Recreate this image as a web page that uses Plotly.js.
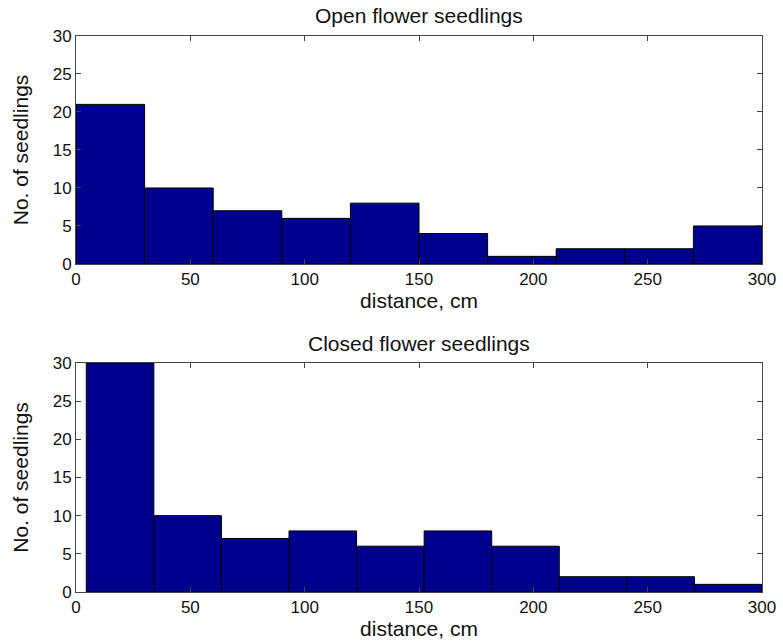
<!DOCTYPE html>
<html>
<head>
<meta charset="utf-8">
<script src="https://cdn.plot.ly/plotly-3.0.1.min.js"></script>
<style>html,body{margin:0;padding:0;background:#fff;}#chart{width:783px;height:642px;}</style>
</head>
<body>
<div id="chart"></div>
<script>
// Open flower seedlings: bin edges (cm) and counts
const openEdges = [0, 30, 60, 90, 120, 150, 180, 210, 240, 270, 300];
const openCounts = [21, 10, 7, 6, 8, 4, 1, 2, 2, 5];
// Closed flower seedlings: bin edges (cm) and counts (first bar clipped at 30)
const closedEdges = [4.5, 34.05, 63.6, 93.15, 122.7, 152.25, 181.8, 211.35, 240.9, 270.45, 300];
const closedCounts = [30, 10, 7, 8, 6, 8, 6, 2, 2, 1];
const xTicks = [0, 50, 100, 150, 200, 250, 300];
const yTicks = [0, 5, 10, 15, 20, 25, 30];

function centers(e){ const c=[]; for(let i=0;i<e.length-1;i++) c.push((e[i]+e[i+1])/2); return c; }
function widths(e){ const w=[]; for(let i=0;i<e.length-1;i++) w.push(e[i+1]-e[i]); return w; }

const barColor = '#00008f';
const fam = 'Liberation Sans, Arial, Helvetica, sans-serif';
const txt = '#111';

const traces = [
  {type:'bar', x: centers(openEdges), y: openCounts, width: widths(openEdges),
   marker:{color: barColor, line:{color:'#000', width:1}}, xaxis:'x', yaxis:'y', hoverinfo:'x+y'},
  {type:'bar', x: centers(closedEdges), y: closedCounts, width: widths(closedEdges),
   marker:{color: barColor, line:{color:'#000', width:1}}, xaxis:'x2', yaxis:'y2', hoverinfo:'x+y'}
];

const axCommon = {
  showgrid:false, zeroline:false, showline:true, linecolor:'#444', linewidth:1,
  mirror:'ticks', ticks:'inside', ticklen:5, tickcolor:'#444',
  tickfont:{family: fam, size:17, color:txt}
};
const titleFont = {size:21, family:fam, color:txt};

const layout = {
  width:783, height:642,
  margin:{l:76, r:21, t:36, b:50},
  paper_bgcolor:'#fff', plot_bgcolor:'#fff',
  showlegend:false, bargap:0,
  font: {family:fam, color:txt},
  xaxis: Object.assign({}, axCommon, {domain:[0,1], range:[0,300], tickvals:xTicks, anchor:'y',
    title:{text:'distance, cm', font:titleFont, standoff:0}}),
  yaxis: Object.assign({}, axCommon, {domain:[0.59,1], range:[0,30], tickvals:yTicks, anchor:'x',
    title:{text:'No. of seedlings', font:titleFont, standoff:18}}),
  xaxis2: Object.assign({}, axCommon, {domain:[0,1], range:[0,300], tickvals:xTicks, anchor:'y2',
    title:{text:'distance, cm', font:titleFont, standoff:0}}),
  yaxis2: Object.assign({}, axCommon, {domain:[0,0.412], range:[0,30], tickvals:yTicks, anchor:'x2',
    title:{text:'No. of seedlings', font:titleFont, standoff:18}}),
  annotations:[
    {text:'Open flower seedlings', xref:'paper', yref:'paper', x:0.5, y:1, yshift:7, xanchor:'center', yanchor:'bottom', showarrow:false, font:titleFont},
    {text:'Closed flower seedlings', xref:'paper', yref:'paper', x:0.5, y:0.412, yshift:6, xanchor:'center', yanchor:'bottom', showarrow:false, font:titleFont}
  ]
};

Plotly.newPlot('chart', traces, layout, {displayModeBar:false, staticPlot:true});
</script>
</body>
</html>
